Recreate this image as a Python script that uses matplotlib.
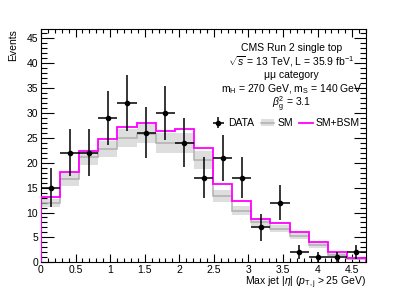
import numpy as np
import matplotlib
matplotlib.use("Agg")
import matplotlib.pyplot as plt
from matplotlib.patches import Patch
from matplotlib.lines import Line2D
from matplotlib.ticker import MultipleLocator

plt.rcParams['font.family'] = ['Liberation Sans', 'DejaVu Sans']
plt.rcParams['mathtext.fontset'] = 'custom'
plt.rcParams['mathtext.rm'] = 'Liberation Sans'
plt.rcParams['mathtext.it'] = 'Liberation Sans:italic'
plt.rcParams['mathtext.bf'] = 'Liberation Sans:bold'

# ---- data ----
x_min, x_max, n_bins = 0.0, 4.7, 17
data_counts = [15, 22, 22, 29, 32, 26, 30, 24, 17, 21, 17, 7, 12, 2, 1, 1, 2]
sm_values = [12.0, 16.7, 21.1, 22.8, 25.0, 25.8, 23.9, 24.0, 20.6, 13.3, 10.4, 8.0, 6.7, 5.2, 3.4, 1.5, 0.7]
sm_unc = [0.8, 1.4, 1.5, 1.6, 1.8, 1.9, 2.0, 2.0, 1.8, 1.2, 0.9, 0.8, 0.7, 0.6, 0.5, 0.3, 0.2]
bsm_values = [13.05, 18.1, 22.4, 24.8, 27.2, 27.9, 26.4, 26.8, 22.9, 15.8, 12.3, 8.7, 7.8, 6.0, 4.1, 2.1, 0.8]
x_ticks = [0, 0.5, 1, 1.5, 2, 2.5, 3, 3.5, 4, 4.5]
x_ticklabels = ["0", "0.5", "1", "1.5", "2", "2.5", "3", "3.5", "4", "4.5"]
y_ticks = [0, 5, 10, 15, 20, 25, 30, 35, 40, 45]

edges = np.linspace(x_min, x_max, n_bins + 1)
centers = 0.5 * (edges[:-1] + edges[1:])
halfw = 0.5 * (edges[1:] - edges[:-1])
data = np.array(data_counts, dtype=float)
sm = np.array(sm_values)
unc = np.array(sm_unc)
bsm = np.array(bsm_values)

fig = plt.figure(figsize=(4.07, 2.92), dpi=100)
ax = fig.add_axes([41/407, 1-262.3/292, 325/407, 233/292])

band_color = '#dedede'
sm_color = '#b0b0b0'
ax.stairs(sm + unc, edges, baseline=sm - unc, fill=True, color=band_color, lw=0, zorder=1)
ax.stairs(sm, edges, color=sm_color, lw=1.1, zorder=2)
ax.stairs(bsm, edges, color='#ff00ff', lw=1.3, zorder=3)
ax.errorbar(centers, data, xerr=halfw, yerr=np.sqrt(data), fmt='o', color='black',
            ms=3, lw=1.1, capsize=0, zorder=4)

ax.set_xlim(x_min, x_max)
ax.set_ylim(0, 46.8)
ax.set_xticks(x_ticks)
ax.set_xticklabels(x_ticklabels)
ax.set_yticks(y_ticks)
ax.xaxis.set_minor_locator(MultipleLocator(0.1))
ax.yaxis.set_minor_locator(MultipleLocator(1))
ax.tick_params(which='both', direction='in', top=True, right=True, labelsize=7.5, width=0.8, pad=2)
ax.tick_params(axis='x', which='major', length=6)
ax.tick_params(axis='x', which='minor', length=3)
ax.tick_params(axis='y', which='major', length=9)
ax.tick_params(axis='y', which='minor', length=4.5)
for s in ax.spines.values():
    s.set_linewidth(0.8)

ax.set_ylabel('Events', fontsize=7.5, loc='top', labelpad=6)
ax.set_xlabel(r'Max jet $|\eta|$ ($p_{\mathrm{T,j}}$ > 25 GeV)', fontsize=7.5, loc='right', labelpad=0)

tx = 0.77
lines = [
    (0.918, 'CMS Run 2 single top'),
    (0.86, r'$\sqrt{s}$ = 13 TeV, L = 35.9 fb$^{-1}$'),
    (0.802, 'μμ category'),
    (0.744, r'm$_{\mathrm{H}}$ = 270 GeV, m$_{\mathrm{S}}$ = 140 GeV'),
    (0.676, r'$\beta_{\mathrm{g}}^{2}$ = 3.1'),
]
for yy, t in lines:
    ax.text(tx, yy, t, transform=ax.transAxes, ha='center', va='center', fontsize=7.5)

h_data = ax.errorbar([], [], xerr=[], yerr=[], fmt='o', color='black', ms=3, lw=1.1, capsize=0)
h_sm = (Patch(facecolor=band_color, edgecolor='none'), Line2D([], [], color=sm_color, lw=1.1))
h_bsm = Line2D([], [], color='#ff00ff', lw=1.3)
ax.legend([h_data, h_sm, h_bsm], ['DATA', 'SM', 'SM+BSM'], ncol=3, frameon=False,
          loc='center left', bbox_to_anchor=(0.525, 0.597), fontsize=7.5,
          handlelength=1.3, handletextpad=0.3, columnspacing=0.6, borderpad=0, borderaxespad=0)

fig.savefig('out.png', dpi=100)
